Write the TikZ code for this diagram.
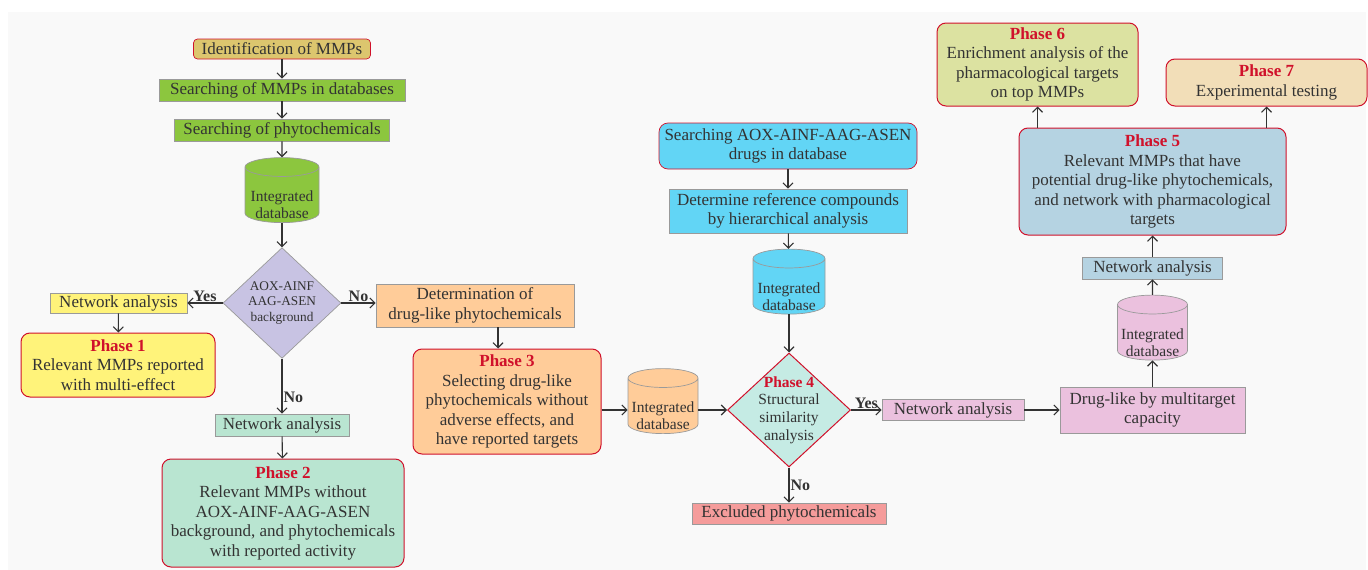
\documentclass[tikz,border=0pt]{standalone}
\usepackage{fontspec}
\setmainfont{Liberation Serif}
\usepackage{tikz}
\usetikzlibrary{shapes.geometric,arrows.meta}

\definecolor{txtgray}{HTML}{333333}
\definecolor{edgegray}{HTML}{9A9A9A}
\definecolor{phasered}{HTML}{D0112B}
\definecolor{panelgray}{HTML}{F9F9F9}
\definecolor{tanfill}{HTML}{DCC66E}
\definecolor{leafgreen}{HTML}{8CC63E}
\definecolor{lavenderfill}{HTML}{C8C3E3}
\definecolor{lemon}{HTML}{FFF37A}
\definecolor{mint}{HTML}{B9E5D1}
\definecolor{peach}{HTML}{FFCC99}
\definecolor{paleteal}{HTML}{C5EBE4}
\definecolor{skycyan}{HTML}{62D5F5}
\definecolor{salmonpink}{HTML}{F59C9B}
\definecolor{orchidpink}{HTML}{EBC1DE}
\definecolor{powderblue}{HTML}{B5D3E2}
\definecolor{limecream}{HTML}{DCE2A1}
\definecolor{wheatfill}{HTML}{F2DEB8}

\newcommand{\phasetitle}[1]{\textcolor{phasered}{\bfseries Phase #1}}
\newcommand{\dbspace}{\phantom{Integrated}\\\phantom{database}}

\begin{document}
\begin{tikzpicture}[x=1pt,y=-1pt,
    >={Straight Barb[length=5pt,width=10pt]},
    every node/.style={text=txtgray},
    sz/.style 2 args={minimum width=#1pt,minimum height=#2pt},
    box/.style={draw=edgegray,line width=0.7pt,align=center,inner sep=1pt,font=\fontsize{17}{19.5}\selectfont},
    pbox/.style={box,draw=phasered,line width=1pt,rounded corners=9pt},
    dbase/.style={cylinder,shape border rotate=90,aspect=0.3,draw=edgegray,line width=0.7pt,inner sep=0pt,
        align=center,font=\fontsize{15.5}{17}\selectfont},
    dbtext/.style={align=center,inner sep=0pt,font=\fontsize{15.5}{17}\selectfont},
    dec/.style={diamond,draw=edgegray,line width=0.7pt,inner sep=0pt,align=center},
    yn/.style={font=\fontsize{16}{18}\selectfont\bfseries,inner sep=1pt},
    arr/.style={->,draw=txtgray,line width=1.1pt}]
    \fill[panelgray] (8,12) rectangle (1366,570);
    \useasboundingbox (0,0) rectangle (1368,570);

    \node[box,fill=tanfill,draw=phasered,rounded corners=4pt,sz={177}{20}] (ident) at (282,49) {Identification of MMPs};
    \node[box,fill=leafgreen,sz={246}{22}] (srchmmp) at (282,90) {Searching of MMPs in databases};
    \node[box,fill=leafgreen,sz={215}{22}] (srchphy) at (282,130) {Searching of phytochemicals};
    \node[dbase,fill=leafgreen,sz={74}{65}] (db1) at (282,195) {\dbspace};
    \node[dbtext] (db1txt) at ([yshift=-10pt]db1.center) {Integrated\\database};
    \node[dec,fill=lavenderfill,sz={118}{108},font=\fontsize{13.3}{15.5}\selectfont] (bg1) at (282,303) {AOX-AINF\\AAG-ASEN\\background};
    \node[box,fill=lemon,sz={137}{20}] (net1) at (118.5,303) {Network analysis};
    \node[pbox,fill=lemon,sz={194}{64}] (ph1) at (118,365) {\phasetitle{1}\\Relevant MMPs reported\\with multi-effect};
    \node[box,fill=mint,sz={134}{22}] (net2) at (282,425) {Network analysis};
    \node[pbox,fill=mint,sz={242}{108}] (ph2) at (283,513) {\phasetitle{2}\\Relevant MMPs without\\AOX-AINF-AAG-ASEN\\background, and phytochemicals\\with reported activity};

    \node[box,fill=peach,sz={198}{43}] (det) at (475,305.5) {Determination of\\drug-like phytochemicals};
    \node[pbox,fill=peach,sz={188}{105}] (ph3) at (507,401.5) {\phasetitle{3}\\Selecting drug-like\\phytochemicals without\\adverse effects, and\\have reported targets};
    \node[dbase,fill=peach,sz={70}{65}] (db3) at (663,406) {\dbspace};
    \node[dbtext] (db3txt) at ([yshift=-10pt]db3.center) {Integrated\\database};

    \node[box,fill=skycyan,draw=phasered,rounded corners=9pt,sz={258}{46}] (srchdrug) at (788,146) {Searching AOX-AINF-AAG-ASEN\\drugs in database};
    \node[box,fill=skycyan,sz={238}{44}] (refc) at (788,211) {Determine reference compounds\\by hierarchical analysis};
    \node[dbase,fill=skycyan,sz={72}{65}] (db4) at (789,286.5) {\dbspace};
    \node[dbtext] (db4txt) at ([yshift=-10pt]db4.center) {Integrated\\database};
    \node[dec,draw=phasered,line width=1pt,fill=paleteal,sz={123}{114}] (ph4) at (789,410) {};
    \node[align=center,font=\fontsize{15.5}{17.7}\selectfont] (ph4txt) at (ph4) {\phasetitle{4}\\Structural\\similarity\\analysis};
    \node[box,fill=salmonpink,sz={194}{21}] (excl) at (789,513.5) {Excluded phytochemicals};

    \node[box,fill=orchidpink,sz={142}{21}] (net4) at (953,410) {Network analysis};
    \node[box,fill=orchidpink,sz={185}{46}] (drug) at (1152.5,410) {Drug-like by multitarget\\capacity};
    \node[dbase,fill=orchidpink,sz={70}{65}] (db5) at (1152.5,332.5) {\dbspace};
    \node[dbtext] (db5txt) at ([yshift=-10pt]db5.center) {Integrated\\database};
    \node[box,fill=powderblue,sz={140}{22}] (net5) at (1152.5,268) {Network analysis};
    \node[pbox,fill=powderblue,sz={267}{107}] (ph5) at (1152.5,181.5) {\phasetitle{5}\\Relevant MMPs that have\\potential drug-like phytochemicals,\\and network with pharmacological\\targets};
    \node[pbox,fill=limecream,sz={201}{83}] (ph6) at (1037.5,64.5) {\phasetitle{6}\\Enrichment analysis of the\\pharmacological targets\\on top MMPs};
    \node[pbox,fill=wheatfill,sz={201}{47}] (ph7) at (1266.5,82.5) {\phasetitle{7}\\Experimental testing};

    \draw (ident) edge[arr] (srchmmp) (srchmmp) edge[arr] (srchphy) (srchphy) edge[arr] (db1) (db1) edge[arr] (bg1);
    \draw (bg1) edge[arr] node[yn,above]{Yes} (net1);
    \draw (bg1.east) edge[arr] node[yn,above]{No} (bg1.east -| det.west);
    \draw (bg1) edge[arr] node[yn,right,pos=0.7]{No} (net2);
    \draw (net1) edge[arr] (ph1) (net2) edge[arr] (ph2);
    \draw ([xshift=23pt]det.south) edge[arr] ([xshift=23pt]det.south |- ph3.north);
    \draw (ph3.east |- ph4) edge[arr] (db3.west |- ph4);
    \draw (db3.east |- ph4) edge[arr] (ph4);
    \draw (srchdrug) edge[arr] (refc) (refc) edge[arr] (db4) (db4) edge[arr] (ph4);
    \draw (ph4) edge[arr] node[yn,above]{Yes} (net4);
    \draw (ph4) edge[arr] node[yn,right]{No} (excl);
    \draw (net4) edge[arr] (drug) (drug) edge[arr] (db5) (db5) edge[arr] (net5) (net5) edge[arr] (ph5);
    \draw (ph6.south |- ph5.north) edge[arr] (ph6) (ph7.south |- ph5.north) edge[arr] (ph7);
\end{tikzpicture}
\end{document}
